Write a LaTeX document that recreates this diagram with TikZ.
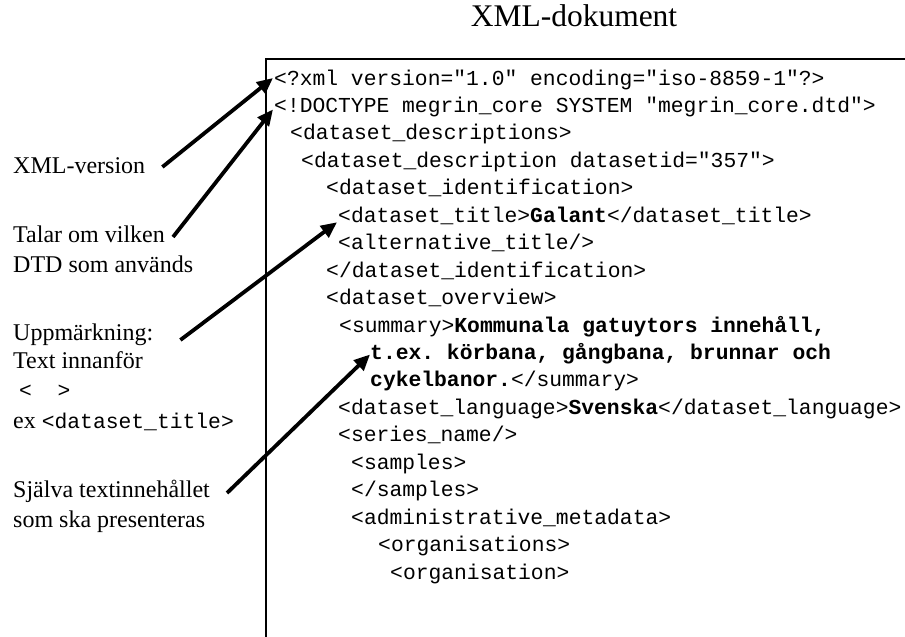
\documentclass[tikz,border=0pt]{standalone}
\usepackage{fontspec}
\setmainfont{Liberation Serif}
\setmonofont{Liberation Mono}
\usetikzlibrary{arrows.meta,calc}
\newcommand\CodeFnt{\fontsize{21.33}{26}\selectfont\ttfamily}
\newcommand\NoteFnt{\fontsize{24}{29}\selectfont\rmfamily}
\begin{document}
\begin{tikzpicture}[x=1pt,y=-1pt,
  code/.style={anchor=base west,inner sep=0pt,font=\CodeFnt},
  note/.style={anchor=base west,inner sep=0pt,font=\NoteFnt},
  frameline/.style={line width=1.8pt},
  pointer/.style={line width=3.8pt,-{Triangle[length=16pt,width=14pt]}}]
\useasboundingbox (0,0) rectangle (905,637);

% heading
\node[anchor=base,inner sep=0pt,font=\fontsize{31.5}{36}\selectfont] (ttl) at (574,27) {XML-dokument};

% document frame (open to the right and at the bottom)
\draw[frameline] (905,59) -- (266,59) -- (266,637);

% XML listing
\node[code] (c1)  at (274,85.00)  {<?xml version="1.0" encoding="iso-8859-1"?>};
\node[code] (c2)  at (274,112.45) {<!DOCTYPE megrin\_core SYSTEM "megrin\_core.dtd">};
\node[code] (c3)  at (290,139.90) {<dataset\_descriptions>};
\node[code] (c4)  at (301,167.35) {<dataset\_description datasetid="357">};
\node[code] (c5)  at (326,194.80) {<dataset\_identification>};
\node[code] (c6)  at (338,222.25) {<dataset\_title>{\bfseries Galant}</dataset\_title>};
\node[code] (c7)  at (338,249.70) {<alternative\_title/>};
\node[code] (c8)  at (326,277.15) {</dataset\_identification>};
\node[code] (c9)  at (326,304.60) {<dataset\_overview>};
\node[code] (c10) at (339,332.05) {<summary>{\bfseries Kommunala gatuytors innehåll,}};
\node[code] (c11) at (370,359.50) {\bfseries t.ex. körbana, gångbana, brunnar och};
\node[code] (c12) at (370,386.95) {{\bfseries cykelbanor.}</summary>};
\node[code] (c13) at (338,414.40) {<dataset\_language>{\bfseries Svenska}</dataset\_language>};
\node[code] (c14) at (338,441.85) {<series\_name/>};
\node[code] (c15) at (351,469.30) {<samples>};
\node[code] (c16) at (351,496.75) {</samples>};
\node[code] (c17) at (351,524.20) {<administrative\_metadata>};
\node[code] (c18) at (378,551.65) {<organisations>};
\node[code] (c19) at (390,579.10) {<organisation>};

% explanations on the left
\node[note] (n1) at (13,173) {XML-version};
\node[note] (n2) at (13,242) {Talar om vilken};
\node[note] (n3) at (13,272) {DTD som används};
\node[note] (n4) at (13,340) {Uppmärkning:};
\node[note] (n5) at (13,368) {Text innanför};
\node[code] (n6) at (19,397) {<\ \ >};
\node[note] (n7) at (13,428) {ex {\CodeFnt<dataset\_title>}};
\node[note] (n8) at (13,497) {Själva textinnehållet};
\node[note] (n9) at (13,527) {som ska presenteras};

% arrow targets in the listing
\coordinate (t1) at ($(c1.base west)+(-1,-7)$);
\coordinate (t2) at ($(c2.base west)+(-1,-3)$);
\coordinate (t3) at ($(c6.base west)+(-1,0)$);
\coordinate (t4) at ($(c11.base west)+(0,-5)$);

% pointers
\draw[pointer] ($(n1.base east)+(17,-6)$) -- (t1);
\draw[pointer] ($(n2.base east)+(8,-5)$) -- (t2);
\draw[pointer] ($(n4.base east)+(27,0)$) -- (t3);
\draw[pointer] ($(n8.base east)+(17,-4)$) -- (t4);
\end{tikzpicture}
\end{document}
